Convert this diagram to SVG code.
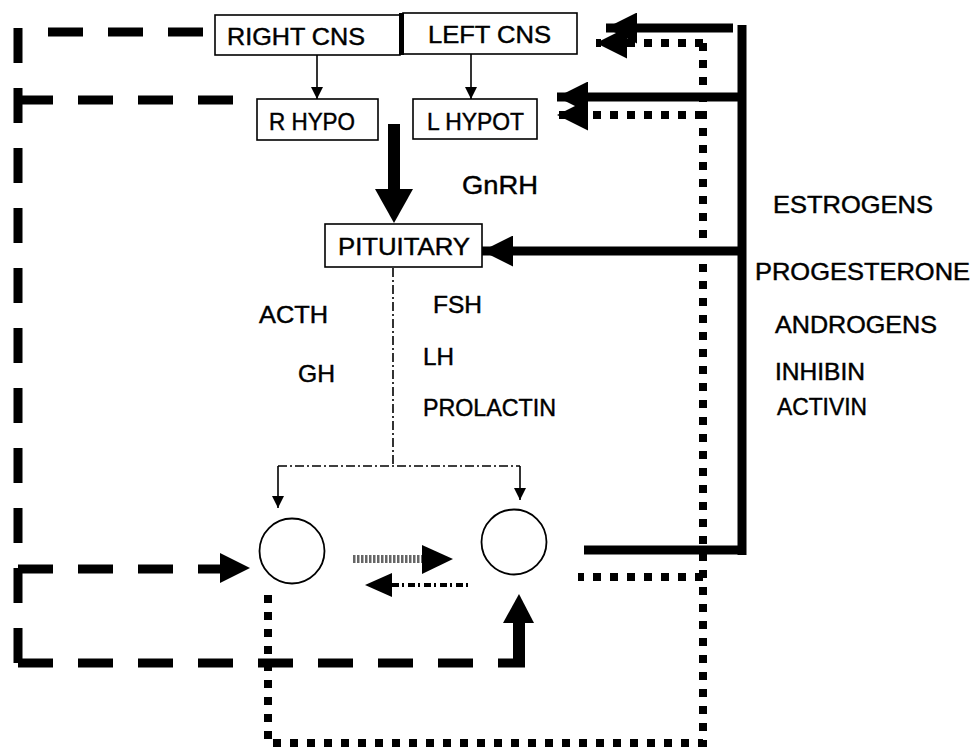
<svg xmlns="http://www.w3.org/2000/svg" width="976" height="749" viewBox="0 0 976 749">
<style>
  .box { fill: #fff; stroke: #000; stroke-width: 1.6; }
  .lbl { font-family: "Liberation Sans", Arial, sans-serif; font-size: 24px; fill: #000; stroke: #000; stroke-width: 0.45; }
  .thin { fill: none; stroke: #000; stroke-width: 1.6; }
  .dashdot { fill: none; stroke: #000; stroke-width: 1.6; stroke-dasharray: 9 3 2 3; }
  .dash { fill: none; stroke: #000; stroke-width: 9; stroke-dasharray: 35 25; }
  .dot { fill: none; stroke: #000; stroke-width: 8; stroke-dasharray: 8 9; }
  .solid { fill: none; stroke: #000; stroke-width: 9; }
  .head { fill: #000; }
</style>
<defs>
  <marker id="thinArrow" markerUnits="userSpaceOnUse" markerWidth="12" markerHeight="12" refX="12" refY="6" orient="auto">
    <path d="M0,0 L12,6 L0,12 z" fill="#000"/>
  </marker>
  <marker id="bigArrow" markerUnits="userSpaceOnUse" markerWidth="31" markerHeight="31" refX="31" refY="15.5" orient="auto">
    <path d="M0,0 L31,15.5 L0,31 z" fill="#000"/>
  </marker>
</defs>

<g id="connectors">
  <!-- CNS to hypothalamus -->
  <line class="thin" x1="317" y1="55" x2="317" y2="99" marker-end="url(#thinArrow)"/>
  <line class="thin" x1="471" y1="54" x2="471" y2="99" marker-end="url(#thinArrow)"/>
  <!-- GnRH thick arrow -->
  <rect x="388" y="124" width="12" height="66" fill="#000"/>
  <polygon class="head" points="375,189 413,189 394,223"/>
  <!-- pituitary dash-dot distribution -->
  <line class="dashdot" x1="393" y1="268" x2="393" y2="466"/>
  <line class="dashdot" x1="278" y1="466" x2="520" y2="466"/>
  <line class="thin" x1="278" y1="466" x2="278" y2="508" marker-end="url(#thinArrow)"/>
  <line class="thin" x1="520" y1="466" x2="520" y2="500" marker-end="url(#thinArrow)"/>
  <!-- gonad interaction -->
  <line x1="353" y1="559" x2="424" y2="559" stroke="#666" stroke-width="8" stroke-dasharray="2.5 1.5"/>
  <polygon class="head" points="422,545 453,559 422,574"/>
  <line x1="392" y1="585" x2="470" y2="585" stroke="#000" stroke-width="4" stroke-dasharray="7 3 2 4"/>
  <polygon class="head" points="392,573 365,585 392,597"/>
  <!-- left dashed feedback loop -->
  <path class="dash" d="M18,28 L18,663"/>
  <path class="dash" d="M48,32 L215,32"/>
  <path class="dash" d="M18,100 L235,100"/>
  <path class="dash" d="M18,569 L222,569"/>
  <polygon class="head" points="220,553 250,568 220,583"/>
  <path class="dash" d="M18,663 L525,663"/>
  <rect x="513" y="622" width="12" height="45" fill="#000"/>
  <polygon class="head" points="503,623 534,623 519,594"/>
  <!-- right solid feedback (steroids) -->
  <line class="solid" x1="742" y1="25" x2="742" y2="555"/>
  <line class="solid" x1="733" y1="28" x2="606" y2="28" marker-end="url(#bigArrow)"/>
  <line class="solid" x1="742" y1="97" x2="557" y2="97" marker-end="url(#bigArrow)"/>
  <line class="solid" x1="742" y1="251" x2="482" y2="251" marker-end="url(#bigArrow)"/>
  <line class="solid" x1="584" y1="550" x2="746" y2="550"/>
  <!-- right dotted feedback -->
  <line class="dot" x1="703" y1="43" x2="596" y2="43" marker-end="url(#bigArrow)"/>
  <line class="dot" x1="703" y1="115" x2="557" y2="115" marker-end="url(#bigArrow)"/>
  <path class="dot" d="M703,43 L703,743 L268,743 L268,590"/>
  <line class="dot" x1="703" y1="577" x2="578" y2="577"/>
</g>

<g id="right-cns">
  <rect class="box" x="215" y="15" width="185" height="40"/>
  <text class="lbl" x="227" y="45" textLength="138" lengthAdjust="spacingAndGlyphs">RIGHT CNS</text>
</g>
<g id="left-cns">
  <rect class="box" x="403" y="13" width="174" height="41"/>
  <rect x="399" y="13" width="5" height="42" fill="#000"/>
  <text class="lbl" x="428" y="43" textLength="123" lengthAdjust="spacingAndGlyphs">LEFT CNS</text>
</g>
<g id="r-hypo">
  <rect class="box" x="257" y="99" width="121" height="41"/>
  <text class="lbl" x="269" y="130" textLength="86" lengthAdjust="spacingAndGlyphs">R HYPO</text>
</g>
<g id="l-hypot">
  <rect class="box" x="413" y="99" width="124" height="40"/>
  <text class="lbl" x="427" y="130" textLength="97" lengthAdjust="spacingAndGlyphs">L HYPOT</text>
</g>
<g id="pituitary">
  <rect class="box" x="325" y="224" width="157" height="43"/>
  <text class="lbl" x="338" y="255" textLength="132" lengthAdjust="spacingAndGlyphs">PITUITARY</text>
</g>
<g id="gonad-left">
  <circle cx="292" cy="551" r="32.5" fill="#fff" stroke="#000" stroke-width="1.8"/>
</g>
<g id="gonad-right">
  <circle cx="514" cy="542" r="32.5" fill="#fff" stroke="#000" stroke-width="1.8"/>
</g>

<g id="labels">
  <text class="lbl" x="462" y="194" style="font-size:26px" textLength="76" lengthAdjust="spacingAndGlyphs">GnRH</text>
  <text class="lbl" x="259" y="323" textLength="69" lengthAdjust="spacingAndGlyphs">ACTH</text>
  <text class="lbl" x="298" y="382" textLength="37" lengthAdjust="spacingAndGlyphs">GH</text>
  <text class="lbl" x="433" y="313" textLength="49" lengthAdjust="spacingAndGlyphs">FSH</text>
  <text class="lbl" x="423" y="365" textLength="31" lengthAdjust="spacingAndGlyphs">LH</text>
  <text class="lbl" x="423" y="416" textLength="133" lengthAdjust="spacingAndGlyphs">PROLACTIN</text>
  <text class="lbl" x="773" y="213" textLength="160" lengthAdjust="spacingAndGlyphs">ESTROGENS</text>
  <text class="lbl" x="755" y="280" textLength="215" lengthAdjust="spacingAndGlyphs">PROGESTERONE</text>
  <text class="lbl" x="775" y="333" textLength="162" lengthAdjust="spacingAndGlyphs">ANDROGENS</text>
  <text class="lbl" x="775" y="380" textLength="90" lengthAdjust="spacingAndGlyphs">INHIBIN</text>
  <text class="lbl" x="777" y="415" textLength="90" lengthAdjust="spacingAndGlyphs">ACTIVIN</text>
</g>
</svg>
